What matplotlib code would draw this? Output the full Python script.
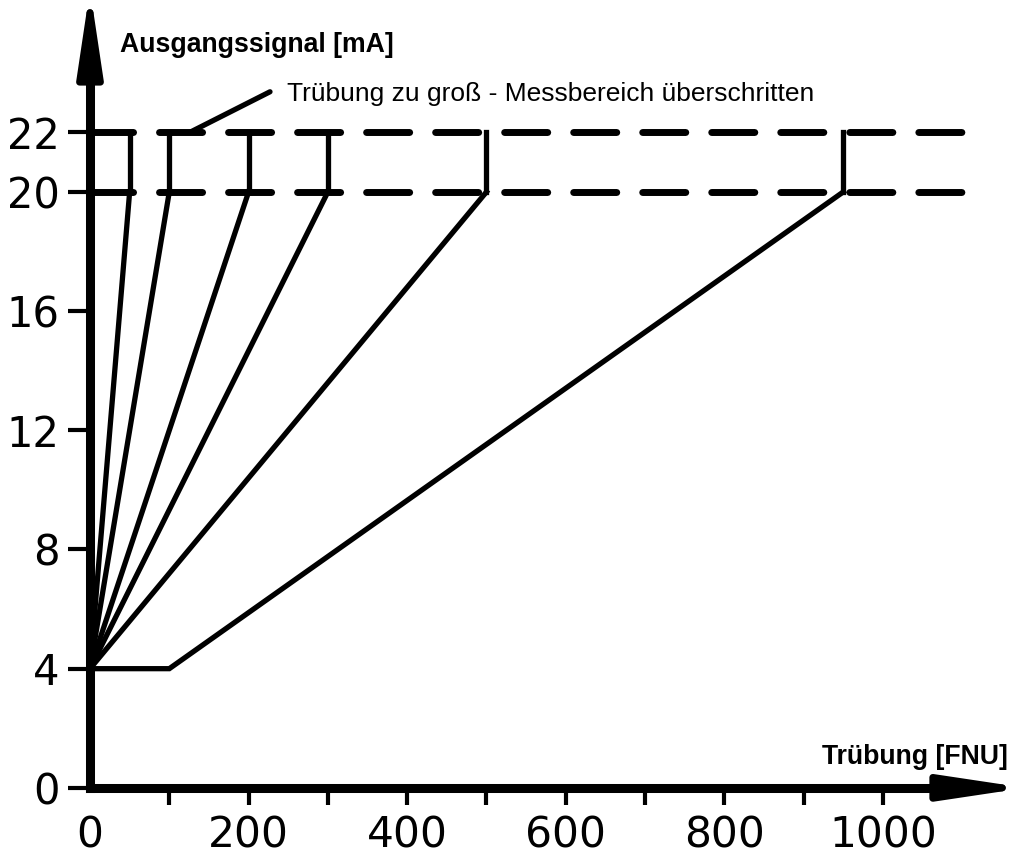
import matplotlib.pyplot as plt

# full scale ranges (FNU) of the 4..20 mA output
ranges = [50, 100, 200, 300, 500, 950]
# last range has a 4 mA offset up to 100 FNU
offset_end = 100
y_low, y_high, y_over = 4, 20, 22
xticks = [0, 200, 400, 600, 800, 1000]
xticks_small = [100, 200, 300, 400, 500, 600, 700, 800, 900, 1000]
yticks = [0, 4, 8, 12, 16, 20, 22]

fig = plt.figure(figsize=(10.13, 8.57), dpi=100)
ax = fig.add_axes([0, 0, 1, 1])
ax.set_xlim(-113.5, 1164)
ax.set_ylim(-2.32, 26.44)
ax.patch.set_visible(False)

# dashed limits at 20 and 22 mA
for yy in (y_high, y_over):
    ax.plot([0, 1101], [yy, yy], color='black', lw=5, dashes=(6.2, 3.74),
            dash_capstyle='round', zorder=2)

# characteristic lines
for r in ranges:
    if r == ranges[-1]:
        ax.plot([0, offset_end, r], [y_low, y_low, y_high], color='black', lw=3.8,
                solid_joinstyle='miter', zorder=3)
    else:
        ax.plot([0, r], [y_low, y_high], color='black', lw=3.8, zorder=3)
    ax.plot([r, r], [y_high, y_over], color='black', lw=3.8, zorder=3)

# axes as spines with arrows
for s in ['top', 'right']:
    ax.spines[s].set_visible(False)
ax.spines['left'].set_position(('data', 0))
ax.spines['bottom'].set_position(('data', 0))
ax.spines['left'].set_linewidth(6.5)
ax.spines['bottom'].set_linewidth(6.5)
ax.spines['left'].set_bounds(0, 24)
ax.spines['bottom'].set_bounds(0, 1100)
head = dict(arrowstyle='-|>,head_length=5.0,head_width=0.75', mutation_scale=10,
            lw=5, color='black', joinstyle='round', capstyle='round',
            shrinkA=0, shrinkB=0)
ax.annotate('', xy=(0, 26.8), xytext=(0, 23.0), arrowprops=head, annotation_clip=False)
ax.annotate('', xy=(1180, 0), xytext=(1080, 0), arrowprops=head, annotation_clip=False)

ax.set_xticks(xticks)
ax.set_xticks(xticks_small, minor=True)
ax.xaxis.remove_overlapping_locs = False
ax.set_yticks(yticks)
ax.tick_params(axis='x', which='major', length=0, labelsize=30.5, pad=19)
ax.tick_params(axis='x', which='minor', direction='out', length=12, width=3)
ax.tick_params(axis='y', direction='out', length=16, width=3, labelsize=30, pad=6)
for lab in ax.get_xticklabels() + ax.get_yticklabels():
    lab.set_family('DejaVu Sans')

# labels
ax.text(38, 24.93, 'Ausgangssignal [mA]', fontsize=19.2, fontweight='bold',
        family='Liberation Sans', ha='left', va='center')
ax.text(1158, 1.04, 'Trübung [FNU]', fontsize=19.2, fontweight='bold',
        family='Liberation Sans', ha='right', va='center')
ax.plot([126, 227], [y_over, 23.36], color='black', lw=3.8, solid_capstyle='round')
ax.text(248, 23.3, 'Trübung zu groß - Messbereich überschritten', fontsize=19,
        family='Liberation Sans', ha='left', va='center')

fig.savefig('out.png', dpi=100)
